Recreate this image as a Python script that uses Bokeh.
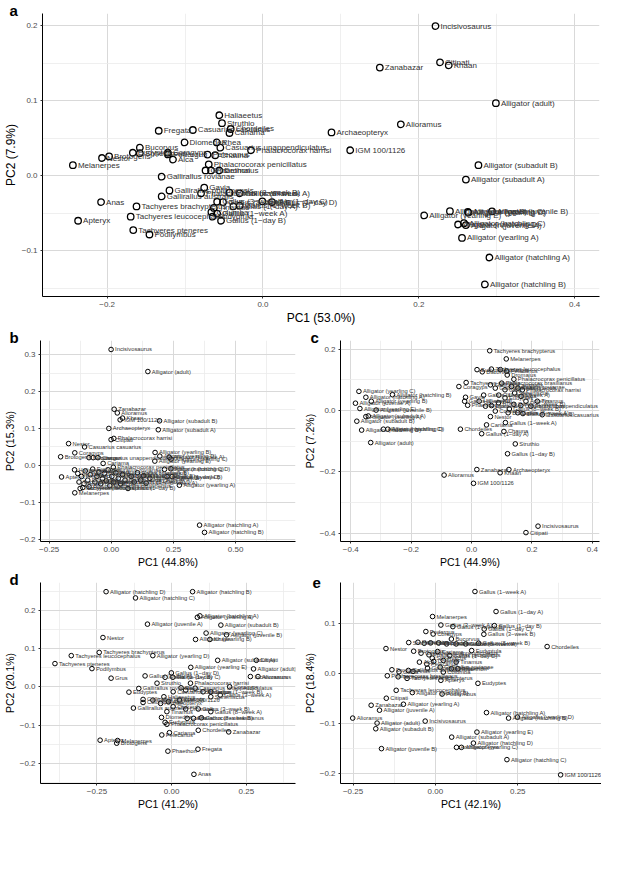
from bokeh.plotting import figure
from bokeh.models import Range1d, FixedTicker, ColumnDataSource, Title
from bokeh.layouts import column, row
from bokeh.embed import file_html
from bokeh.resources import INLINE
from bokeh.core.properties import value

# ---------------- Panel a ----------------
a_names = ["Incisivosaurus", "Citipati", "Khaan", "Zanabazar", "Alligator (adult)", "Alioramus", "Archaeopteryx", "IGM 100/1126",
           "Alligator (subadult B)", "Alligator (subadult A)", "Alligator (yearling E)", "Alligator (yearling B)", "Alligator (yearling C)",
           "Alligator (juvenile B)", "Alligator (hatchling D)", "Alligator (hatchling C)", "Alligator (juvenile A)", "Alligator (yearling D)",
           "Alligator (yearling A)", "Alligator (hatchling A)", "Alligator (hatchling B)",
           "Haliaeetus", "Struthio", "Fregata", "Casuarius casuarius", "Chordeiles", "Cariama", "Diomedea", "Rhea",
           "Casuarius unappendiculatus", "Phalacrocorax harrisi", "Bucorvus", "Eudyptes", "Spheniscus", "Coragyps", "Podargus", "Alca",
           "Nestor", "Brotogeris", "Melanerpes", "Pelecanus", "Chauna", "Phalacrocorax penicillatus", "Grus", "Phaethon", "Dromaius",
           "Gallirallus rovianae", "Gavia", "Gallirallus philippensis", "Phalacrocorax brasilianus", "Gallus (8-week B)", "Gallus (8-week A)",
           "Gallirallus australis", "Anas", "Tachyeres brachypterus", "Gallus (3-week A)", "Gallus (3-week B)", "Gallus (1-week B)",
           "Gallus (1-day C)", "Gallus (1-day D)", "Tinamus", "Gallus (1-week A)", "Columba", "Eudyptula", "Gallus (1-day B)", "Gallus (1-day A)",
           "Tachyeres leucocephalus", "Apteryx", "Tachyeres pteneres", "Podilymbus"]
a_pc1 = [0.2215, 0.2273, 0.2385, 0.150, 0.299, 0.177, 0.088, 0.112,
         0.2766, 0.2605, 0.207, 0.240, 0.263,
         0.294, 0.2505, 0.258, 0.2605, 0.264,
         0.2555, 0.2907, 0.2849,
         -0.056, -0.0526, -0.1338, -0.090, -0.0414, -0.043, -0.1006, -0.0592,
         -0.0547, -0.0153, -0.158, -0.167, -0.158, -0.122, -0.122, -0.1155,
         -0.2066, -0.1975, -0.244, -0.0712, -0.0613, -0.0696, -0.0737, -0.0667, -0.056,
         -0.130, -0.0754, -0.120, -0.0795, -0.043, -0.0298,
         -0.130, -0.2078, -0.1623, -0.0588, -0.0513, -0.0298,
         -0.0008, 0.0116, -0.063, -0.0588, -0.0662, -0.0646, -0.0538, -0.038,
         -0.1698, -0.2373, -0.1665, -0.1457]
a_pc2 = [0.1993, 0.151, 0.147, 0.144, 0.0967, 0.0685, 0.0577, 0.034,
         0.0141, -0.005, -0.0527, -0.047, -0.048,
         -0.0473, -0.0648, -0.063, -0.0656, -0.049,
         -0.0826, -0.1087, -0.1445,
         0.0806, 0.070, 0.060, 0.061, 0.0623, 0.057, 0.0444, 0.0444,
         0.0374, 0.034, 0.0374, 0.0307, 0.030, 0.0307, 0.0285, 0.0216,
         0.0237, 0.0258, 0.0141, 0.0283, 0.0274, 0.0153, 0.0071, 0.0071, 0.0071,
         -0.0012, -0.0158, -0.0195, -0.0233, -0.0224, -0.0233,
         -0.0274, -0.0349, -0.0407, -0.0345, -0.0349, -0.0398,
         -0.034, -0.0349, -0.0427, -0.0502, -0.0482, -0.0544, -0.0598, -0.0407,
         -0.0544, -0.0598, -0.0722, -0.0781]

# ---------------- Panel b ----------------
b_names = ["Incisivosaurus", "Alligator (adult)", "Zanabazar", "Alioramus", "IGM 100/1126", "Khaan", "Alligator (subadult B)", "Archaeopteryx",
           "Alligator (subadult A)", "Citipati", "Phalacrocorax harrisi", "Nestor", "Casuarius casuarius", "Coragyps", "Brotogeris", "Bucorvus",
           "Podargus", "Casuarius unappendiculatus", "Cariama", "Alligator (yearling B)", "Alligator (yearling D)", "Alligator (juvenile A)",
           "Alligator (yearling C)", "Alligator (yearling E)", "Alligator (hatchling C)", "Alligator (hatchling D)", "Alligator (juvenile B)",
           "Gallus (1-day D)", "Alligator (yearling A)", "Apteryx", "Melanerpes", "Tachyeres pteneres", "Alligator (hatchling A)",
           "Alligator (hatchling B)", "Phalacrocorax penicillatus",
           "Haliaeetus", "Struthio", "Fregata", "Chordeiles", "Diomedea", "Rhea", "Eudyptes", "Spheniscus", "Alca", "Pelecanus",
           "Chauna", "Grus", "Phaethon", "Dromaius", "Gallirallus rovianae", "Gallirallus philippensis", "Gallirallus australis", "Gavia",
           "Phalacrocorax brasilianus", "Anas", "Tachyeres brachypterus", "Tachyeres leucocephalus", "Podilymbus", "Tinamus", "Columba",
           "Eudyptula", "Gallus (1-day A)", "Gallus (1-day B)", "Gallus (1-day C)", "Gallus (1-week A)", "Gallus (1-week B)",
           "Gallus (3-week A)", "Gallus (3-week B)", "Gallus (8-week A)", "Gallus (8-week B)"]
b_pc1 = [-0.001, 0.147, 0.0114, 0.024, 0.0354, 0.045, 0.194, -0.010, 0.189, -0.001, 0.010, -0.172, -0.1077, -0.147, -0.204, -0.090,
         -0.073, -0.054, -0.033, 0.176, 0.195, 0.233, 0.240, 0.175, 0.214, 0.2395, 0.224, 0.2445, 0.2738, -0.2003, -0.147, -0.1255,
         0.355, 0.375, 0.008,
         -0.148, -0.135, -0.120, -0.105, -0.095, -0.085, -0.075, -0.066, -0.058, -0.050, -0.043, -0.036, -0.028, -0.020, -0.013,
         -0.006, 0.002, 0.010, 0.018, -0.110, -0.130, -0.115, -0.090, 0.028, 0.037, 0.045, 0.055, 0.067, 0.080, 0.092, 0.105,
         0.118, 0.130, 0.140, 0.155]
b_pc2 = [0.3137, 0.254, 0.152, 0.142, 0.1233, 0.128, 0.1206, 0.100, 0.0965, 0.0697, 0.073, 0.059, 0.050, 0.034, 0.0233, 0.021,
         0.021, 0.021, 0.0054, 0.0349, 0.025, 0.022, 0.017, 0.0116, -0.0107, -0.009, -0.0303, -0.0303, -0.0536, -0.0313, -0.0742, -0.0625,
         -0.1617, -0.1814, -0.005,
         -0.012, -0.022, -0.030, -0.015, -0.040, -0.025, -0.010, -0.045, -0.030, -0.018, -0.050, -0.036, -0.022, -0.042, -0.012,
         -0.055, -0.030, -0.045, -0.020, -0.050, -0.045, -0.060, -0.058, -0.035, -0.050, -0.025, -0.040, -0.0625, -0.030, -0.045, -0.020,
         -0.040, -0.028, -0.048, -0.035]

# ---------------- Panel c ----------------
c_names = ["Tachyeres brachypterus", "Melanerpes", "Eudyptula", "Bucorvus", "Tachyeres leucocephalus", "Podargus", "Dromaius", "Pelecanus",
           "Phalacrocorax penicillatus", "Tachyeres pteneres", "Coragyps", "Phalacrocorax harrisi", "Casuarius unappendiculatus",
           "Casuarius casuarius", "Gallus (1-week A)", "Chordeiles", "Cariama", "Gallus (1-day A)", "Chauna", "Struthio", "Gallus (1-day B)",
           "Zanabazar", "Archaeopteryx", "Khaan", "Alioramus", "IGM 100/1126", "Incisivosaurus", "Citipati",
           "Alligator (yearling C)", "Alligator (hatchling B)", "Alligator (hatchling A)", "Alligator (yearling B)", "Alligator (juvenile A)",
           "Alligator (yearling E)", "Alligator (juvenile B)", "Alligator (yearling A)", "Alligator (subadult A)", "Alligator (subadult B)",
           "Alligator (hatchling D)", "Alligator (yearling D)", "Alligator (hatchling C)", "Alligator (adult)",
           "Gavia", "Phaethon", "Haliaeetus", "Fregata", "Diomedea", "Rhea", "Eudyptes", "Spheniscus", "Alca", "Grus",
           "Gallirallus rovianae", "Gallirallus philippensis", "Gallirallus australis", "Phalacrocorax brasilianus", "Anas", "Apteryx",
           "Podilymbus", "Tinamus", "Columba", "Nestor", "Brotogeris", "Gallus (1-day C)", "Gallus (1-day D)", "Gallus (1-week B)",
           "Gallus (3-week A)", "Gallus (3-week B)", "Gallus (8-week A)", "Gallus (8-week B)"]
c_pc1 = [0.060, 0.1148, 0.018, 0.0354, 0.0656, 0.0955, 0.118, 0.116, 0.140, -0.018, -0.042, 0.168, 0.163, 0.234, 0.112, -0.037,
         0.0495, 0.0334, 0.107, 0.1447, 0.119, 0.0174, 0.1235, 0.0945, -0.091, 0.0064, 0.220, 0.180,
         -0.373, -0.262, -0.350, -0.332, -0.3845, -0.3698, -0.316, -0.350, -0.342, -0.380, -0.364, -0.2775, -0.292, -0.334,
         -0.020, -0.013, 0.025, 0.046, 0.0656, 0.089, 0.1106, 0.1427, 0.164, 0.1106, 0.132, 0.0785, 0.0624, 0.0997, 0.1534,
         0.180, 0.196, 0.2177, 0.0785, 0.0624, 0.121, 0.040, -0.023, 0.140, 0.090, 0.170, 0.153, 0.125]
c_pc2 = [0.1947, 0.168, 0.133, 0.126, 0.1348, 0.133, 0.1155, 0.128, 0.1017, 0.091, 0.078, 0.067, 0.016, -0.0138, -0.0395, -0.061,
         -0.047, -0.0757, -0.0684, -0.109, -0.141, -0.1925, -0.1925, -0.203, -0.2105, -0.2374, -0.377, -0.398,
         0.0622, 0.0513, 0.043, 0.030, 0.0237, 0.0064, 0.0013, -0.020, -0.018, -0.035, -0.064, -0.061, -0.061, -0.1046,
         0.043, 0.017, 0.030, 0.014, 0.016, 0.0247, 0.041, 0.0568, 0.046, 0.0674, 0.078, 0.0728, 0.0834, 0.089, 0.0728,
         0.030, 0.014, 0.030, -0.002, -0.020, -0.0074, 0.050, 0.030, 0.020, 0.050, -0.010, -0.0074, 0.005]

# ---------------- Panel d ----------------
d_names = ["Alligator (hatchling D)", "Alligator (hatchling B)", "Alligator (hatchling C)", "Alligator (yearling A)", "Alligator (hatchling A)",
           "Alligator (juvenile A)", "Alligator (subadult B)", "Alligator (yearling C)", "Alligator (juvenile B)", "Alligator (yearling B)",
           "Khaan", "Nestor", "Tachyeres brachypterus", "Tachyeres leucocephalus", "Alligator (yearling D)", "Tachyeres pteneres",
           "Podilymbus", "Grus", "Alligator (subadult A)", "Citipati", "Alligator (yearling E)", "Alligator (adult)", "Incisivosaurus",
           "Alioramus", "Gallus (1-day D)", "Gallus (1-day A)", "Gallus (1-day B)", "Gallus (1-day C)", "Struthio", "Phalacrocorax harrisi",
           "Eudyptes", "Gallirallus rovianae", "Gallirallus australis", "Gallirallus philippensis", "Columba", "Phalacrocorax penicillatus",
           "Eudyptula", "Diomedea", "Pelecanus", "Cariama", "Chordeiles", "Zanabazar", "Apteryx", "Melanerpes", "Brotogeris", "Phaethon",
           "Fregata", "Anas",
           "Haliaeetus", "Casuarius casuarius", "Rhea", "Bucorvus", "Casuarius unappendiculatus", "Podargus", "Spheniscus", "Gallus (3-week A)",
           "Coragyps", "IGM 100/1126", "Alca", "Chauna", "Dromaius", "Gallus (3-week B)", "Gallus (8-week A)", "Gavia",
           "Phalacrocorax brasilianus", "Gallus (8-week B)", "Tinamus", "Archaeopteryx", "Gallus (1-week A)", "Gallus (1-week B)"]
d_pc1 = [-0.2195, 0.070, -0.121, 0.086, 0.0945, -0.081, 0.1647, 0.1153, 0.1836, 0.080, 0.128, -0.230, -0.2425, -0.336, -0.063,
         -0.3906, -0.2668, -0.2027, 0.154, 0.2835, 0.064, 0.274, 0.2635, 0.289, -0.001, -0.089, -0.022, 0.004, -0.049, 0.063,
         -0.143, -0.110, -0.128, -0.0957, -0.0957, -0.016, -0.022, -0.034, -0.033, -0.0075, 0.089, 0.191, -0.2395, -0.181, -0.184,
         -0.0126, 0.088, 0.0745,
         -0.026, 0.005, 0.0315, 0.047, 0.0787, 0.105, 0.131, 0.1625, 0.194, 0.026, -0.0107, 0.005, 0.047, 0.089, 0.131, 0.052,
         0.073, 0.0995, -0.016, -0.037, -0.063, 0.131]
d_pc2 = [0.249, 0.249, 0.2326, 0.182, 0.1857, 0.164, 0.1615, 0.1406, 0.136, 0.124, 0.124, 0.129, 0.090, 0.0816, 0.0816,
         0.0608, 0.0477, 0.0226, 0.0694, 0.0694, 0.051, 0.0469, 0.0269, 0.0269, 0.0365, 0.0286, 0.025, 0.025, 0.0095, 0.0095,
         -0.0139, -0.0043, -0.0556, -0.033, -0.041, -0.098, -0.093, -0.080, -0.126, -0.120, -0.1137, -0.118, -0.1397, -0.1406, -0.1475,
         -0.1684, -0.1632, -0.229,
         -0.026, -0.013, -0.0026, -0.0087, -0.0035, -0.013, -0.026, -0.0217, 0.0, -0.0347, -0.039, -0.052, -0.058, -0.058, -0.065, -0.0825,
         -0.0825, -0.081, -0.065, -0.0434, -0.0347, -0.013]

# ---------------- Panel e ----------------
e_names = ["Gallus (1-week A)", "Gallus (1-day A)", "Melanerpes", "Gallus (3-week A)", "Gallus (1-week B)", "Gallus (1-day B)",
           "Gallus (1-day C)", "Gallus (3-week B)", "Podargus", "Coragyps", "Bucorvus", "Struthio", "Chordeiles", "Nestor", "Brotogeris",
           "Cariama", "Dromaius", "Gavia", "Phalacrocorax brasilianus", "Tachyeres pteneres", "Tachyeres brachypterus", "Eudyptes",
           "Apteryx", "Tachyeres leucocephalus", "Alligator (yearling B)", "Podilymbus", "Citipati", "Alligator (yearling A)", "Zanabazar",
           "Alligator (juvenile A)", "Alioramus", "Alligator (adult)", "Alligator (subadult B)", "Incisivosaurus", "Alligator (hatchling A)",
           "Alligator (hatchling B)", "Alligator (yearling D)", "Alligator (yearling E)", "Alligator (subadult A)", "Alligator (hatchling D)",
           "Archaeopteryx", "Alligator (yearling C)", "Alligator (juvenile B)", "Alligator (hatchling C)", "IGM 100/1126",
           "Haliaeetus", "Fregata", "Casuarius casuarius", "Diomedea", "Rhea", "Phalacrocorax harrisi", "Gallus (8-week A)",
           "Gallus (8-week B)", "Casuarius unappendiculatus", "Phalacrocorax penicillatus", "Spheniscus", "Alca", "Pelecanus", "Chauna",
           "Grus", "Gallus (1-day D)", "Tinamus", "Khaan", "Gallirallus rovianae", "Gallirallus philippensis", "Gallirallus australis",
           "Anas", "Columba", "Phaethon", "Eudyptula"]
e_pc1 = [0.120, 0.184, -0.0087, 0.0166, 0.053, 0.179, 0.148, 0.147, -0.029, -0.0068, 0.0485, -0.081, 0.339, -0.150, -0.066,
         0.0068, -0.132, -0.1105, -0.146, -0.113, -0.086, 0.129, 0.0166, -0.119, -0.070, 0.0203, -0.149, -0.097, -0.195,
         -0.1696, -0.251, -0.177, -0.181, -0.031, 0.155, 0.222, 0.249, 0.126, 0.0494, 0.1153, 0.064, 0.079, -0.1637, 0.217, 0.380,
         -0.053, -0.034, -0.0145, 0.0097, 0.034, 0.063, 0.092, 0.131, -0.0436, -0.0195, -0.0096, -0.0485, -0.026, -0.005, 0.024,
         0.0436, 0.063, 0.0485, 0.0145, -0.024, -0.082, -0.068, 0.024, 0.068, 0.110]
e_pc2 = [0.163, 0.123, 0.113, 0.096, 0.0928, 0.0948, 0.088, 0.0775, 0.083, 0.078, 0.068, 0.061, 0.053, 0.049, 0.0437,
         0.043, 0.0066, 0.0026, -0.0054, -0.0075, -0.0106, -0.0205, -0.0145, -0.0345, -0.039, -0.042, -0.0503, -0.0623, -0.0643,
         -0.0742, -0.090, -0.100, -0.1113, -0.096, -0.079, -0.090, -0.088, -0.118, -0.128, -0.140, -0.1485, -0.1485, -0.151, -0.173,
         -0.2034,
         0.0616, 0.0596, 0.0603, 0.0603, 0.0583, 0.0583, 0.0583, 0.0596, 0.0398, 0.0364, 0.0298, 0.0219, 0.0179, 0.0232, 0.0252,
         0.0351, 0.0219, 0.0086, 0.0119, 0.0099, 0.0053, 0.0033, 0.002, 0.0086, 0.045]

# ---------------- Axis ticks / labels ----------------
a_xticks, a_xminor = [-0.2, 0.0, 0.2, 0.4], [-0.1, 0.1, 0.3]
a_yticks, a_yminor = [-0.1, 0.0, 0.1, 0.2], [-0.15, -0.05, 0.05, 0.15]
b_xticks, b_xminor = [-0.25, 0.0, 0.25, 0.5], [-0.125, 0.125, 0.375, 0.625]
b_yticks, b_yminor = [-0.2, -0.1, 0.0, 0.1, 0.2, 0.3], [-0.15, -0.05, 0.05, 0.15, 0.25]
c_xticks, c_xminor = [-0.4, -0.2, 0.0, 0.2, 0.4], [-0.3, -0.1, 0.1, 0.3]
c_yticks, c_yminor = [-0.4, -0.2, 0.0, 0.2], [-0.3, -0.1, 0.1]
d_xticks, d_xminor = [-0.25, 0.0, 0.25], [-0.375, -0.125, 0.125, 0.375]
d_yticks, d_yminor = [-0.2, -0.1, 0.0, 0.1, 0.2], [-0.25, -0.15, -0.05, 0.05, 0.15, 0.25]
e_xticks, e_xminor = [-0.25, 0.0, 0.25], [-0.125, 0.125, 0.375]
e_yticks, e_yminor = [-0.2, -0.1, 0.0, 0.1], [-0.15, -0.05, 0.05, 0.15]

FONT = "Liberation Sans"
MINUS = "\u2212"


def fmt(v, nd):
    s = f"{abs(v):.{nd}f}"
    return MINUS + s if v < -1e-12 else s


def panel(letter, names, xs, ys, xr, yr, xt, xm, yt, ym, ndx, ndy, xlab, ylab,
          W, H, bl, br, bt, bb, ldx, psize, plw, tsize, toff, asize):
    assert len(names) == len(xs) == len(ys)
    ttl = Title(text=letter, align="left", offset=-(bl - ldx), standoff=-10,
                text_font=FONT, text_font_size="15px", text_font_style="bold",
                text_color="black")
    p = figure(width=W, height=H, x_range=Range1d(*xr), y_range=Range1d(*yr),
               output_backend="svg", toolbar_location=None, title=ttl,
               min_border_left=bl, min_border_right=br, min_border_top=bt, min_border_bottom=bb)
    p.outline_line_color = None
    p.background_fill_color = "white"
    p.border_fill_color = "white"
    p.xaxis.ticker = FixedTicker(ticks=xt, minor_ticks=xm)
    p.yaxis.ticker = FixedTicker(ticks=yt, minor_ticks=ym)
    p.xaxis.major_label_overrides = {v: fmt(v, ndx) for v in xt}
    p.yaxis.major_label_overrides = {v: fmt(v, ndy) for v in yt}
    for ax in (p.xaxis, p.yaxis):
        ax.axis_line_color = "black"
        ax.axis_line_width = 1
        ax.major_tick_line_color = "#333333"
        ax.major_tick_out = 2
        ax.major_tick_in = 0
        ax.minor_tick_line_color = None
        ax.major_label_text_font = FONT
        ax.major_label_text_font_size = "8px"
        ax.major_label_text_color = "#4d4d4d"
        ax.major_label_standoff = 1
        ax.axis_label_text_font = FONT
        ax.axis_label_text_font_size = f"{asize}px"
        ax.axis_label_text_font_style = "normal"
        ax.axis_label_text_color = "black"
        ax.axis_label_standoff = 1
    p.xaxis.axis_label = xlab
    p.yaxis.axis_label = ylab
    for g in (p.xgrid, p.ygrid):
        g.grid_line_color = "#d9d9d9"
        g.grid_line_width = 1
        g.minor_grid_line_color = "#ebebeb"
        g.minor_grid_line_width = 0.8
    shown = [n.replace("-", MINUS) for n in names]
    src = ColumnDataSource(dict(x=xs, y=ys, name=shown))
    p.scatter(x="x", y="y", source=src, marker="circle", size=psize,
              fill_color=None, line_color="black", line_width=plw)
    p.text(x="x", y="y", text="name", source=src, text_font=value(FONT),
           text_font_size=f"{tsize}px", text_color="#333333",
           text_baseline="middle", text_align="left", x_offset=toff)
    return p


pa = panel("a", a_names, a_pc1, a_pc2, (-0.283, 0.432), (-0.1606, 0.216),
           a_xticks, a_xminor, a_yticks, a_yminor, 1, 1, "PC1 (53.0%)", "PC2 (7.9%)",
           601, 327, 34, 2, 13, 27, 1, 6.5, 1.3, 8, 5, 12)
pb = panel("b", b_names, b_pc1, b_pc2, (-0.285, 0.741), (-0.206, 0.338),
           b_xticks, b_xminor, b_yticks, b_yminor, 2, 1, "PC1 (44.8%)", "PC2 (15.3%)",
           300, 243, 32, 5, 13, 28, 1, 4.6, 1.0, 5.8, 4, 10.5)
pc = panel("c", c_names, c_pc1, c_pc2, (-0.434, 0.4235), (-0.427, 0.228),
           c_xticks, c_xminor, c_yticks, c_yminor, 1, 1, "PC1 (44.9%)", "PC2 (7.2%)",
           301, 243, 34, 2, 13, 28, 4, 4.6, 1.0, 5.8, 4, 10.5)
pd = panel("d", d_names, d_pc1, d_pc2, (-0.439, 0.4145), (-0.253, 0.273),
           d_xticks, d_xminor, d_yticks, d_yminor, 2, 1, "PC1 (41.2%)", "PC2 (20.1%)",
           300, 242, 32, 5, 12, 28, 1, 4.6, 1.0, 5.8, 4, 10.5)
pe = panel("e", e_names, e_pc1, e_pc2, (-0.288, 0.504), (-0.2207, 0.181),
           e_xticks, e_xminor, e_yticks, e_yminor, 2, 1, "PC1 (42.1%)", "PC2 (18.4%)",
           301, 242, 32, 0, 12, 28, 4, 4.6, 1.0, 5.8, 4, 10.5)

layout = column(pa, row(pb, pc), row(pd, pe))
open("out.html", "w").write(file_html(layout, INLINE))
